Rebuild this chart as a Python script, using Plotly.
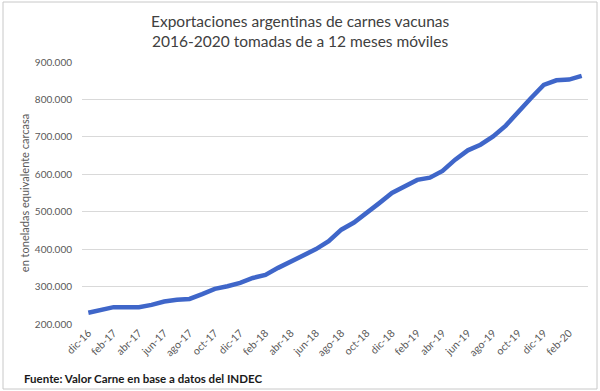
import plotly.graph_objects as go

months = ["dic-16", "ene-17", "feb-17", "mar-17", "abr-17", "may-17", "jun-17", "jul-17", "ago-17", "sep-17",
          "oct-17", "nov-17", "dic-17", "ene-18", "feb-18", "mar-18", "abr-18", "may-18", "jun-18", "jul-18",
          "ago-18", "sep-18", "oct-18", "nov-18", "dic-18", "ene-19", "feb-19", "mar-19", "abr-19", "may-19",
          "jun-19", "jul-19", "ago-19", "sep-19", "oct-19", "nov-19", "dic-19", "ene-20", "feb-20", "mar-20"]

exports = [230000, 238000, 245000, 245000, 245000, 251000, 260000, 265000, 267000, 280000,
           294000, 301000, 310000, 323000, 331000, 350000, 366000, 382000, 400000, 421000,
           452000, 471000, 496000, 523000, 550000, 567000, 585000, 591000, 609000, 639000,
           664000, 679000, 701000, 730000, 768000, 804000, 839000, 851000, 853000, 863000]

tick_labels = months[::2]

y_ticks = [200000, 300000, 400000, 500000, 600000, 700000, 800000, 900000]

font_family = "Lato, 'Open Sans', sans-serif"

fig = go.Figure()
fig.add_trace(go.Scatter(
    x=months, y=exports, mode="lines",
    line=dict(color="#3F66C9", width=4.5),
    hoverinfo="x+y",
))

L, R, T, B = 82, 12, 62, 67
W, H = 600, 391
pw, ph = W - L - R, H - T - B

def px(x):
    return (x - L) / pw

def py(y):
    return (H - B - y) / ph

fig.update_layout(
    width=W, height=H,
    margin=dict(l=L, r=R, t=T, b=B),
    paper_bgcolor="white", plot_bgcolor="white",
    separators=",.",
    showlegend=False,
    font=dict(family=font_family, color="#595959", size=10),
    xaxis=dict(
        type="category",
        categoryorder="array", categoryarray=months,
        tickmode="array", tickvals=tick_labels, ticktext=tick_labels,
        tickangle=-45, tickfont=dict(size=10.5, color="#595959"),
        showgrid=False, showline=False, ticks="",
        range=[-0.5, len(months) - 0.5],
        automargin=False,
    ),
    yaxis=dict(
        range=[200000, 900000],
        tickvals=y_ticks, tickformat=",d",
        tickfont=dict(size=10, color="#595959"),
        ticks="outside", ticklen=7, tickcolor="rgba(0,0,0,0)",
        showgrid=True, gridcolor="#D9D9D9", gridwidth=1,
        zeroline=False, showline=False,
        automargin=False,
        title=dict(text="en toneladas equivalente carcasa",
                   font=dict(size=11, color="#595959"), standoff=2),
    ),
    annotations=[
        dict(text="Exportaciones argentinas de carnes vacunas<br>2016-2020 tomadas de a 12 meses móviles",
             xref="paper", yref="paper", x=px(300), y=py(31),
             xanchor="center", yanchor="middle", showarrow=False,
             font=dict(size=15.5, color="#404040", family=font_family)),
        dict(text="<b>Fuente: Valor Carne en base a datos del INDEC</b>",
             xref="paper", yref="paper", x=px(22), y=py(378),
             xanchor="left", yanchor="middle", showarrow=False,
             font=dict(size=11.5, color="#1a1a1a", family=font_family)),
    ],
    shapes=[
        dict(type="rect", xref="paper", yref="paper",
             x0=px(3), x1=px(597), y0=py(389), y1=py(2),
             line=dict(color="#C8C8C8", width=1), layer="above"),
    ],
)

fig.write_html("out.html",
               config={"displayModeBar": False},
               post_script="document.body.style.margin='0';document.body.style.overflow='hidden';")
